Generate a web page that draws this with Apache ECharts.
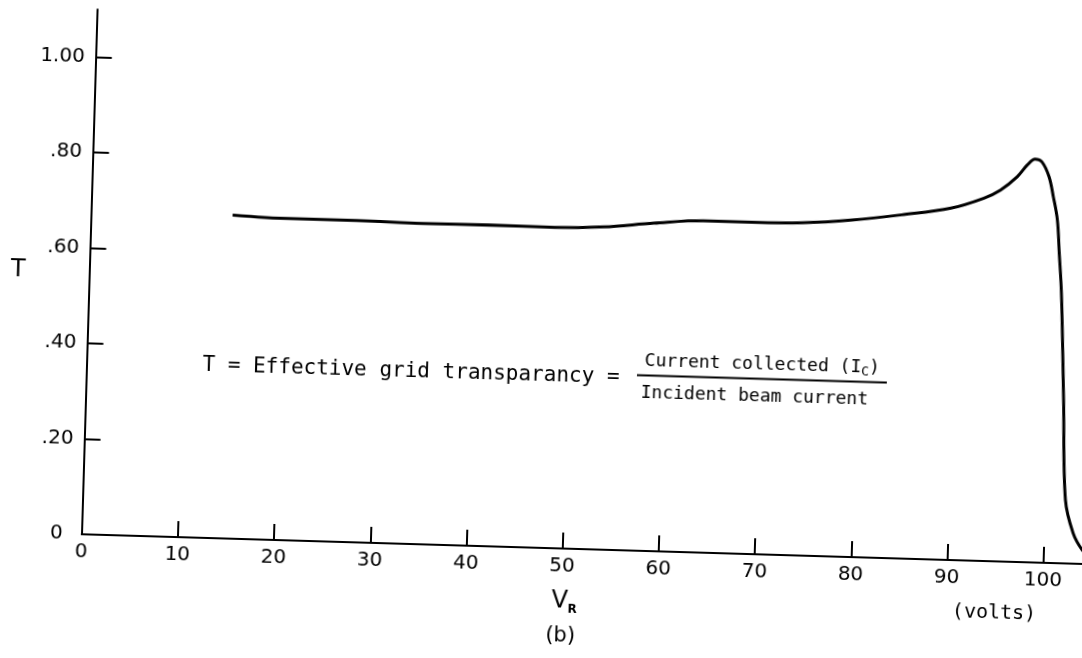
<!DOCTYPE html>
<html>
<head>
<meta charset="utf-8">
<script src="https://cdn.jsdelivr.net/npm/echarts@6/dist/echarts.min.js"></script>
<style>
  html, body { margin: 0; padding: 0; background: #fff; width: 1082px; height: 658px; overflow: hidden; }
  #chart { position: absolute; left: 0; top: 0; width: 1140px; height: 680px;
           transform-origin: 73px 534px; transform: rotate(1.7deg); }
</style>
</head>
<body>
<div id="chart"></div>
<script>
// Retarding voltage V_R (volts) and effective grid transparency T
const voltage = [14.7, 20.7, 27.6, 34.5, 41.3, 48.2, 53.3, 58.5, 63.6, 68.8, 73.9, 79.1, 84.2, 89.3, 92.7, 94.4, 96.1, 97.1, 97.9, 98.6, 99.4, 99.9, 100.4, 100.7, 101.0, 101.2, 101.6, 102.1, 103.0, 104.0, 104.9];
const transparency = [0.678, 0.674, 0.674, 0.672, 0.673, 0.672, 0.676, 0.687, 0.695, 0.695, 0.697, 0.706, 0.720, 0.737, 0.760, 0.778, 0.807, 0.832, 0.845, 0.840, 0.809, 0.768, 0.719, 0.649, 0.579, 0.510, 0.342, 0.133, 0.064, 0.029, 0.012];
const xTicks = [0, 10, 20, 30, 40, 50, 60, 70, 80, 90, 100];
const yTicks = [0, 0.2, 0.4, 0.6, 0.8, 1.0];
const yTickLabels = ['0', '.20', '.40', '.60', '.80', '1.00'];

const FONT = '"DejaVu Sans", sans-serif';
const MONO = '"DejaVu Sans Mono", monospace';
const chart = echarts.init(document.getElementById('chart'), null, { renderer: 'canvas' });

const axisCommon = {
  axisLine: { show: true, lineStyle: { color: '#000', width: 2 } },
  axisTick: { show: true, inside: true, length: 16, lineStyle: { color: '#000', width: 2 } },
  splitLine: { show: false },
  minorTick: { show: false }
};

chart.setOption({
  animation: false,
  backgroundColor: '#fff',
  grid: { left: 73, right: 0, top: 9, bottom: 146, containLabel: false },
  xAxis: Object.assign({}, axisCommon, {
    type: 'value', min: 0, max: 110,
    axisTick: Object.assign({}, axisCommon.axisTick, { customValues: xTicks }),
    axisLabel: { customValues: xTicks, margin: 8, color: '#000', fontSize: 20, fontFamily: FONT }
  }),
  yAxis: Object.assign({}, axisCommon, {
    type: 'value', min: 0, max: 1.1,
    name: 'T', nameLocation: 'middle', nameGap: 64, nameRotate: 0,
    nameTextStyle: { color: '#000', fontSize: 24, fontFamily: FONT },
    axisTick: Object.assign({}, axisCommon.axisTick, { customValues: yTicks }),
    axisLabel: {
      customValues: yTicks, margin: 11, color: '#000', fontSize: 20, fontFamily: FONT,
      formatter: function (v) {
        const i = yTicks.findIndex(t => Math.abs(t - v) < 1e-6);
        const s = i >= 0 ? yTickLabels[i] : '';
        return v === 0 ? '{z|' + s + '}' : s;
      },
      rich: { z: { fontSize: 20, fontFamily: FONT, color: '#000', padding: [0, 8, 0, 0] } }
    }
  }),
  series: [{
    type: 'line',
    data: voltage.map((v, i) => [v, transparency[i]]),
    showSymbol: false,
    smooth: 0.35,
    lineStyle: { color: '#000', width: 3 },
    silent: true
  }],
  graphic: [
    { type: 'text', x: 406, y: 362, style: { text: 'T = Effective grid transparancy =', font: '21px ' + MONO, fill: '#000', align: 'center', verticalAlign: 'middle' } },
    { type: 'text', x: 757, y: 344, style: { text: 'Current collected (I{s|C})', font: '18px ' + MONO, fill: '#000', align: 'center', verticalAlign: 'middle',
        rich: { s: { fontSize: 13, fontFamily: MONO, padding: [10, 0, 0, 0] } } } },
    { type: 'line', shape: { x1: 632, y1: 358.5, x2: 882, y2: 358.5 }, style: { stroke: '#000', lineWidth: 2 } },
    { type: 'text', x: 750, y: 376, style: { text: 'Incident beam current', font: '18px ' + MONO, fill: '#000', align: 'center', verticalAlign: 'middle' } },
    { type: 'text', x: 566, y: 587, style: { text: 'V{s|R}', font: '24px ' + FONT, fill: '#000', align: 'center', verticalAlign: 'middle',
        rich: { s: { fontSize: 12, fontWeight: 'bold', fontFamily: FONT, padding: [16, 0, 0, 0] } } } },
    { type: 'text', x: 996, y: 586, style: { text: '(volts)', font: '20px ' + MONO, fill: '#000', align: 'center', verticalAlign: 'middle' } },
    { type: 'text', x: 563, y: 622, style: { text: '(b)', font: '21px ' + FONT, fill: '#000', align: 'center', verticalAlign: 'middle' } }
  ]
});
</script>
</body>
</html>
